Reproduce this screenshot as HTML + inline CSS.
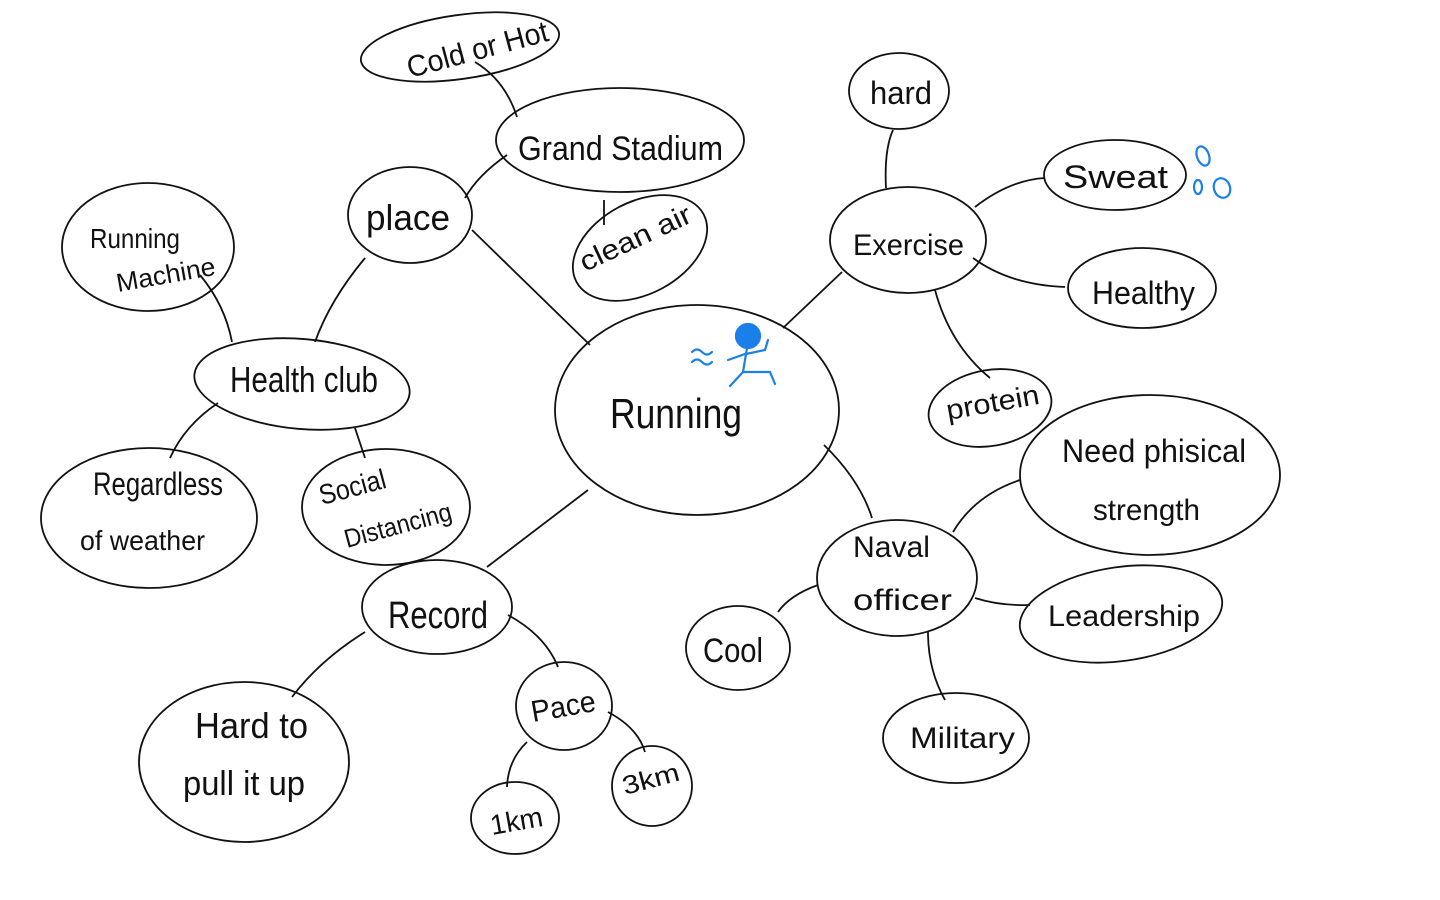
<!DOCTYPE html>
<html><head><meta charset="utf-8"><style>
html,body{margin:0;padding:0;background:#fff;}
svg{display:block;}
text{font-family:"Liberation Sans",sans-serif;fill:#111;}
</style></head><body>
<svg width="1440" height="900" viewBox="0 0 1440 900" xmlns="http://www.w3.org/2000/svg">
<rect width="1440" height="900" fill="#fff"/>
<g fill="none" stroke="#111" stroke-width="1.8">
<ellipse cx="460" cy="47" rx="100" ry="32" transform="rotate(-8 460 47)"/>
<ellipse cx="620" cy="140" rx="124" ry="52"/>
<ellipse cx="640" cy="248" rx="72" ry="46" transform="rotate(-28 640 248)"/>
<ellipse cx="410" cy="215" rx="62" ry="48"/>
<ellipse cx="148" cy="247" rx="86" ry="64"/>
<ellipse cx="302" cy="384" rx="108" ry="45" transform="rotate(5 302 384)"/>
<ellipse cx="149" cy="518" rx="108" ry="70"/>
<ellipse cx="386" cy="507" rx="84" ry="58"/>
<ellipse cx="697" cy="410" rx="142" ry="105"/>
<ellipse cx="437" cy="607" rx="75" ry="47"/>
<ellipse cx="244" cy="762" rx="105" ry="80"/>
<ellipse cx="564" cy="706" rx="48" ry="44"/>
<ellipse cx="515" cy="818" rx="44" ry="36"/>
<ellipse cx="652" cy="786" rx="40" ry="40"/>
<ellipse cx="899" cy="91" rx="50" ry="38"/>
<ellipse cx="908" cy="240" rx="78" ry="53"/>
<ellipse cx="1115" cy="175" rx="71" ry="35"/>
<ellipse cx="1142" cy="288" rx="74" ry="40"/>
<ellipse cx="990" cy="408" rx="62" ry="38" transform="rotate(-10 990 408)"/>
<ellipse cx="1150" cy="475" rx="130" ry="80"/>
<ellipse cx="897" cy="578" rx="80" ry="58"/>
<ellipse cx="1121" cy="614" rx="102" ry="47" transform="rotate(-8 1121 614)"/>
<ellipse cx="738" cy="648" rx="52" ry="42"/>
<ellipse cx="956" cy="738" rx="73" ry="45"/>
<path d="M475 62 Q505 80 517 117"/>
<path d="M507 155 Q478 175 465 198"/>
<path d="M604 200 L604 225"/>
<path d="M472 230 L590 345"/>
<path d="M365 258 Q330 300 315 342"/>
<path d="M200 275 Q225 305 232 342"/>
<path d="M218 403 Q185 425 170 458"/>
<path d="M355 428 L365 458"/>
<path d="M588 490 L487 567"/>
<path d="M365 632 Q320 660 292 697"/>
<path d="M508 615 Q545 635 558 667"/>
<path d="M527 742 Q508 760 507 787"/>
<path d="M608 712 Q638 728 645 752"/>
<path d="M783 328 L842 272"/>
<path d="M886 188 Q884 150 893 130"/>
<path d="M975 207 Q1010 180 1045 178"/>
<path d="M973 258 Q1010 285 1065 287"/>
<path d="M935 290 Q950 345 990 378"/>
<path d="M824 445 Q860 480 872 518"/>
<path d="M953 532 Q975 495 1020 480"/>
<path d="M975 598 Q1000 606 1030 605"/>
<path d="M818 585 Q790 595 778 612"/>
<path d="M928 632 Q928 670 945 700"/>
</g>
<g lengthAdjust="spacingAndGlyphs">
<text x="410" y="78" transform="rotate(-15 410 78)" font-size="30" textLength="145" lengthAdjust="spacingAndGlyphs">Cold or Hot</text>
<text x="518" y="160" font-size="34" textLength="205" lengthAdjust="spacingAndGlyphs">Grand Stadium</text>
<text x="585" y="272" transform="rotate(-25 585 272)" font-size="28" textLength="120" lengthAdjust="spacingAndGlyphs">clean air</text>
<text x="366" y="230" font-size="36" textLength="84" lengthAdjust="spacingAndGlyphs">place</text>
<text x="90" y="248" font-size="28" textLength="90" lengthAdjust="spacingAndGlyphs">Running</text>
<text x="118" y="292" transform="rotate(-10 118 292)" font-size="26" textLength="100" lengthAdjust="spacingAndGlyphs">Machine</text>
<text x="230" y="392" font-size="36" textLength="148" lengthAdjust="spacingAndGlyphs">Health club</text>
<text x="93" y="495" font-size="32" textLength="130" lengthAdjust="spacingAndGlyphs">Regardless</text>
<text x="80" y="550" font-size="28" textLength="125" lengthAdjust="spacingAndGlyphs">of weather</text>
<text x="322" y="505" transform="rotate(-15 322 505)" font-size="28" textLength="68" lengthAdjust="spacingAndGlyphs">Social</text>
<text x="347" y="548" transform="rotate(-15 347 548)" font-size="26" textLength="110" lengthAdjust="spacingAndGlyphs">Distancing</text>
<text x="610" y="428" font-size="42" textLength="132" lengthAdjust="spacingAndGlyphs">Running</text>
<text x="388" y="628" font-size="38" textLength="100" lengthAdjust="spacingAndGlyphs">Record</text>
<text x="195" y="738" font-size="36" textLength="113" lengthAdjust="spacingAndGlyphs">Hard to</text>
<text x="183" y="795" font-size="34" textLength="122" lengthAdjust="spacingAndGlyphs">pull it up</text>
<text x="533" y="722" transform="rotate(-10 533 722)" font-size="30" textLength="65" lengthAdjust="spacingAndGlyphs">Pace</text>
<text x="492" y="835" transform="rotate(-10 492 835)" font-size="28" textLength="53" lengthAdjust="spacingAndGlyphs">1km</text>
<text x="625" y="795" transform="rotate(-15 625 795)" font-size="26" textLength="58" lengthAdjust="spacingAndGlyphs">3km</text>
<text x="870" y="104" font-size="32" textLength="62" lengthAdjust="spacingAndGlyphs">hard</text>
<text x="853" y="255" font-size="30" textLength="111" lengthAdjust="spacingAndGlyphs">Exercise</text>
<text x="1063" y="188" font-size="32" textLength="105" lengthAdjust="spacingAndGlyphs">Sweat</text>
<text x="1092" y="304" font-size="32" textLength="103" lengthAdjust="spacingAndGlyphs">Healthy</text>
<text x="948" y="420" transform="rotate(-10 948 420)" font-size="28" textLength="94" lengthAdjust="spacingAndGlyphs">protein</text>
<text x="1062" y="462" font-size="32" textLength="184" lengthAdjust="spacingAndGlyphs">Need phisical</text>
<text x="1093" y="520" font-size="30" textLength="107" lengthAdjust="spacingAndGlyphs">strength</text>
<text x="853" y="557" font-size="30" textLength="77" lengthAdjust="spacingAndGlyphs">Naval</text>
<text x="853" y="610" font-size="30" textLength="99" lengthAdjust="spacingAndGlyphs">officer</text>
<text x="1048" y="626" font-size="30" textLength="152" lengthAdjust="spacingAndGlyphs">Leadership</text>
<text x="703" y="662" font-size="34" textLength="60" lengthAdjust="spacingAndGlyphs">Cool</text>
<text x="910" y="748" font-size="30" textLength="105" lengthAdjust="spacingAndGlyphs">Military</text>
</g>
<g stroke="#1a7fe8" stroke-width="2.2" fill="none" stroke-linecap="round">
<circle cx="748" cy="336" r="12" fill="#1a7fe8"/>
<path d="M747 348 L743 372 L730 386"/>
<path d="M743 372 L770 372 L775 384"/>
<path d="M745 354 L728 360"/>
<path d="M746 354 L765 350 L768 340"/>
<path d="M692 352 q5 -5 10 0 q5 5 10 0 M692 362 q5 -5 10 0 q5 5 10 0"/>
<ellipse cx="1203" cy="156" rx="6" ry="10" transform="rotate(-20 1203 156)"/>
<ellipse cx="1198" cy="187" rx="4" ry="7"/>
<ellipse cx="1222" cy="188" rx="8" ry="10" transform="rotate(-20 1222 188)"/>
</g>
</svg>
</body></html>
